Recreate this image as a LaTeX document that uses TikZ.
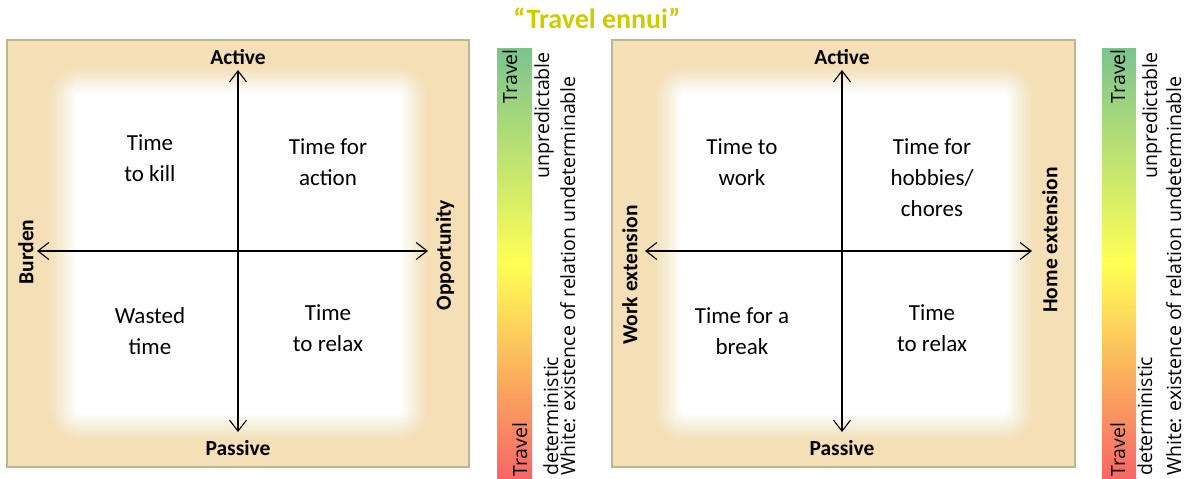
\documentclass[tikz,border=0pt]{standalone}
\usepackage{fontspec}
\setmainfont{Carlito}
\newfontfamily\barfont{Open Sans}
\usetikzlibrary{arrows.meta}
\definecolor{boxfill}{RGB}{245,223,183}
\definecolor{boxline}{RGB}{190,183,140}
\definecolor{titlecol}{RGB}{204,204,0}
\definecolor{gtop}{RGB}{123,196,143}
\definecolor{gmid}{RGB}{255,255,85}
\definecolor{gbot}{RGB}{248,102,102}
\tikzset{
  quad/.style={align=center, font=\fontsize{23}{31}\selectfont, inner sep=0pt},
  axlabel/.style={font=\bfseries\fontsize{21.5}{26}\selectfont, inner sep=0pt},
  axis/.style={line width=1.1pt, {Straight Barb[length=11pt,width=17pt]}-{Straight Barb[length=11pt,width=17pt]}},
  bartext/.style={font=\barfont\fontsize{19.5}{23}\selectfont, inner sep=0pt, rotate=90},
  panel/.style={fill=boxfill, draw=boxline, line width=2pt},
  colorbar/.style={top color=gtop, bottom color=gbot, middle color=gmid},
}
\newcommand\myfade[4]{%
  \foreach \i in {0,...,15}{%
    \pgfmathsetmacro\op{1/(16-\i)}%
    \pgfmathsetmacro\dd{\i*27/16}%
    \pgfmathsetmacro\rr{30-\dd}%
    \fill[white, opacity=\op, rounded corners=\rr pt] ({#1+\dd},{#2+\dd}) rectangle ({#3-\dd},{#4-\dd});
  }}
\begin{document}
\begin{tikzpicture}[x=1pt,y=-1pt]
\useasboundingbox (0,0) rectangle (1186,479);
\fill[white] (0,0) rectangle (1186,479);

\node[font=\bfseries\fontsize{28}{34}\selectfont, text=titlecol, anchor=base, inner sep=0pt] (title) at (597,28) {“Travel ennui”};

% ---------- left panel ----------
\draw[panel] (7,40) rectangle (469,467);
\myfade{50}{67}{427}{440}
\coordinate (LN) at (238,70);
\coordinate (LS) at (238,432);
\coordinate (LW) at (37,251);
\coordinate (LE) at (428,251);
\draw[axis] (LS) -- (LN);
\draw[axis] (LW) -- (LE);
\node[axlabel] (Lact) at (238,57) {Active};
\node[axlabel] (Lpas) at (238,448) {Passive};
\node[axlabel, rotate=90] (Lbur) at (26,252) {Burden};
\node[axlabel, rotate=90] (Lopp) at (445,255) {Opportunity};
\node[quad] (Lq1) at (150,158) {Time\\to kill};
\node[quad] (Lq2) at (328,162) {Time for\\action};
\node[quad] (Lq3) at (150,331) {Wasted\\time};
\node[quad] (Lq4) at (328,328) {Time\\to relax};

% ---------- left colour bar ----------
\shade[colorbar] (497,48) rectangle (532,478);
\node[bartext, anchor=base east] (Lb1) at (517,49) {Travel};
\node[bartext, anchor=base west] (Lb2) at (527,477) {Travel};
\node[bartext, anchor=base east] (Lb3) at (549,52) {unpredictable};
\node[bartext, anchor=base west] (Lb4) at (558,476) {deterministic};
\node[bartext, anchor=base west] (Lb5) at (575,476) {White: existence of relation undeterminable};

% ---------- right panel ----------
\draw[panel] (612,40) rectangle (1075,467);
\myfade{655}{67}{1033}{440}
\coordinate (RN) at (842,70);
\coordinate (RS) at (842,432);
\coordinate (RW) at (645,251);
\coordinate (RE) at (1032,251);
\draw[axis] (RS) -- (RN);
\draw[axis] (RW) -- (RE);
\node[axlabel] (Ract) at (842,57) {Active};
\node[axlabel] (Rpas) at (842,448) {Passive};
\node[axlabel, rotate=90] (Rwork) at (630,275) {Work extension};
\node[axlabel, rotate=90] (Rhome) at (1050,240) {Home extension};
\node[quad] (Rq1) at (742,162) {Time to\\work};
\node[quad] (Rq2) at (932,178) {Time for\\hobbies/\\chores};
\node[quad] (Rq3) at (742,331) {Time for a\\break};
\node[quad] (Rq4) at (932,328) {Time\\to relax};

% ---------- right colour bar ----------
\shade[colorbar] (1102,48) rectangle (1136,478);
\node[bartext, anchor=base east] (Rb1) at (1125,49) {Travel};
\node[bartext, anchor=base west] (Rb2) at (1125,477) {Travel};
\node[bartext, anchor=base east] (Rb3) at (1157,52) {unpredictable};
\node[bartext, anchor=base west] (Rb4) at (1152,476) {deterministic};
\node[bartext, anchor=base west] (Rb5) at (1181,476) {White: existence of relation undeterminable};
\end{tikzpicture}
\end{document}
